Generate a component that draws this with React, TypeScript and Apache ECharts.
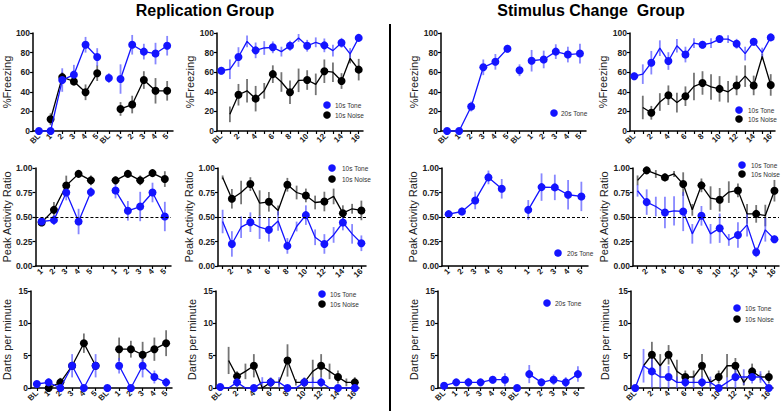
import React, { useEffect, useRef } from "react";
import * as echarts from "echarts";

// ---------- categories ----------
const cats12 = ["BL", "1", "2", "3", "4", "5", "BL", "1", "2", "3", "4", "5"];
const cats11 = ["1", "2", "3", "4", "5", "", "1", "2", "3", "4", "5"];
const cats17 = ["BL", "1", "2", "3", "4", "5", "6", "7", "8", "9", "10", "11", "12", "13", "14", "15", "16"];
const cats16 = ["1", "2", "3", "4", "5", "6", "7", "8", "9", "10", "11", "12", "13", "14", "15", "16"];

// ---------- Row 1: % Freezing ----------
const frzRepTone12 = [0, 0, 52, 57.5, 88, 75.5, 54, 53, 88, 81, 79, 87];
const frzRepToneErr12 = [0, 0, 12, 10, 8, 9, 5, 15, 10, 8, 11, 10];
const frzRepNoise12 = [null, 12, 55, 50.5, 39.5, 59, null, 22.5, 27, 52, 41, 41];
const frzRepNoiseErr12 = [0, 6, 5, 4, 8, 8, 0, 7, 9, 9, 13, 10];

const frzRepTone17 = [61.5, 63, 75.5, 91.5, 82.3, 84.7, 85.4, 81, 87, 95, 87, 90.5, 87.4, 82, 90, 78.6, 95];
const frzRepToneErr17 = [4, 10, 10, 6, 8, 7, 6, 5, 5, 4, 6, 5, 7, 6, 5, 6, 3];
const frzRepNoise17 = [null, 17, 37, 41, 33, 41, 58, 50, 39.5, 51.7, 52, 47.6, 61, 60, 51, 74, 62.6];
const frzRepNoiseErr17 = [0, 8, 11, 12, 13, 8, 9, 10, 12, 12, 10, 11, 12, 10, 8, 5, 11];

const frzStimTone12 = [0, 0, 25, 65, 70.6, 84, 62, 71.7, 73, 81, 78, 79];
const frzStimToneErr12 = [0, 0, 5, 8, 8, 4, 6, 11, 9, 7.5, 8, 10];

const frzStimTone17 = [55.9, 58, 69.7, 84.5, 71.4, 87, 78, 89.7, 88, 89.7, 93.8, 93.8, 89, 79, 91, 80, 95.5];
const frzStimToneErr17 = [4, 10, 12, 8, 9, 7, 8, 5, 4, 5, 3, 4, 5, 7, 4, 5, 3];
const frzStimNoise17 = [null, 24, 18.6, 29.6, 36.5, 29, 35.5, 45.5, 49, 45, 43, 40, 46.5, 56, 46.5, 76, 47];
const frzStimNoiseErr17 = [0, 12, 7, 9, 10, 10, 10, 14, 12, 13, 13, 11, 10, 11, 10, 3, 11];

// ---------- Row 2: Peak Activity Ratio ----------
const parRepTone11 = [0.454, 0.468, 0.75, 0.454, 0.754, null, 0.77, 0.563, 0.607, 0.75, 0.505];
const parRepToneErr11 = [0.03, 0.05, 0.08, 0.13, 0.05, 0, 0.08, 0.1, 0.15, 0.1, 0.15];
const parRepNoise11 = [0.444, 0.573, 0.822, 0.94, 0.874, null, 0.874, 0.94, 0.874, 0.948, 0.887];
const parRepNoiseErr11 = [0.02, 0.08, 0.1, 0.02, 0.05, 0, 0.04, 0.02, 0.05, 0.02, 0.08];

const parRepTone16 = [0.454, 0.225, 0.396, 0.447, 0.396, 0.369, 0.46, 0.205, 0.403, 0.519, 0.293, 0.225, 0.317, 0.444, 0.328, 0.232];
const parRepToneErr16 = [0.12, 0.13, 0.11, 0.1, 0.12, 0.12, 0.1, 0.08, 0.05, 0.1, 0.08, 0.1, 0.08, 0.08, 0.1, 0.08];
const parRepNoise16 = [0.904, 0.686, 0.75, 0.836, 0.642, 0.655, 0.567, 0.829, 0.75, 0.72, 0.648, 0.658, 0.71, 0.539, 0.584, 0.567];
const parRepNoiseErr16 = [0.02, 0.1, 0.12, 0.07, 0.13, 0.1, 0.05, 0.07, 0.07, 0.07, 0.07, 0.1, 0.08, 0.08, 0.05, 0.1];

const parStimTone11 = [0.529, 0.556, 0.669, 0.904, 0.788, null, 0.573, 0.805, 0.802, 0.727, 0.71];
const parStimToneErr11 = [0.02, 0.04, 0.09, 0.07, 0.1, 0, 0.1, 0.14, 0.13, 0.15, 0.15];

const parStimTone16 = [0.768, 0.652, 0.607, 0.546, 0.563, 0.556, 0.328, 0.512, 0.328, 0.386, 0.266, 0.317, 0.42, 0.14, 0.369, 0.273];
const parStimToneErr16 = [0.06, 0.13, 0.1, 0.16, 0.15, 0.2, 0.1, 0.1, 0.1, 0.15, 0.06, 0.13, 0.12, 0.05, 0.12, 0.04];
const parStimNoise16 = [0.874, 0.976, 0.939, 0.904, 0.939, 0.836, 0.573, 0.823, 0.693, 0.676, 0.754, 0.771, 0.532, 0.532, 0.515, 0.768];
const parStimNoiseErr16 = [0.05, 0.02, 0.04, 0.04, 0.03, 0.12, 0.06, 0.07, 0.12, 0.12, 0.11, 0.07, 0.1, 0.09, 0.11, 0.11];

// ---------- Row 3: Darts per minute ----------
const dpmRepTone12 = [0.62, 0.87, 0, 3.44, 0, 3.44, 0, 3.44, 0, 3.44, 1.7, 0.87];
const dpmRepToneErr12 = [0.5, 0.6, 0, 1.8, 0, 1.8, 0, 1.2, 0, 1.8, 1, 0.7];
const dpmRepNoise12 = [null, 0, 0.87, 3.44, 6.93, 3.44, null, 6.0, 6.0, 5.14, 6.0, 6.93];
const dpmRepNoiseErr12 = [0, 0, 0.7, 0, 1.5, 0, 0, 1.8, 1.3, 2, 1.8, 2];

const dpmRepTone17 = [0.15, 0, 0.87, 0, 0, 0.87, 0.87, 0.87, 0, 0, 0.87, 0.87, 0.87, 0, 0, 0, 0];
const dpmRepToneErr17 = [0, 0, 0.8, 0, 0, 0.8, 0.8, 0.8, 0, 0, 0.8, 0.8, 0.8, 0, 0, 0, 0];
const dpmRepNoise17 = [null, 4.26, 1.8, 2.57, 3.44, 0, 0.87, 0.87, 4.26, 0.87, 0.87, 2.57, 3.44, 2.57, 1.7, 0.87, 0.87];
const dpmRepNoiseErr17 = [0, 2.1, 0.8, 1.2, 1.8, 0, 0.5, 0.5, 2.5, 0.5, 0.5, 1.8, 1.8, 1.2, 1, 0.6, 0.8];

const dpmStimTone12 = [0.36, 0.87, 0.87, 0.87, 1.28, 1.28, 0, 2.15, 0.87, 1.28, 0.87, 2.15];
const dpmStimToneErr12 = [0.3, 0.4, 0.7, 0.5, 0.6, 1, 0, 1.4, 0.5, 0.8, 0.8, 1.2];

const dpmStimTone17 = [0, 3.44, 2.57, 1.7, 1.7, 0.87, 0.87, 0.87, 0.87, 0.87, 0, 0.87, 1.7, 1.7, 1.7, 1.7, 0];
const dpmStimToneErr17 = [0, 2.6, 2.5, 1.7, 1.7, 0.9, 0.9, 0.9, 0.9, 0.9, 0, 0.8, 1.7, 1.2, 1, 0.9, 0];
const dpmStimNoise17 = [null, 3.44, 5.14, 3.44, 5.14, 2.57, 1.7, 1.7, 3.44, 0.87, 1.7, 3.44, 3.44, 0.87, 2.57, 1.7, 1.7];
const dpmStimNoiseErr17 = [0, 0, 2, 1.8, 1.5, 1.8, 1, 1, 1.8, 0.5, 1, 1.8, 1.2, 0.5, 1.2, 0.5, 1];

// ---------- layout ----------
const BLUE = "#1414ff";
const BLACK = "#000000";
const FONT = "Liberation Sans, Arial, sans-serif";

const segs12 = [[0, 5], [6, 6], [7, 11]];
const segs11 = [[0, 4], [6, 10]];
const segs17 = [[0, 16]];
const segs16 = [[0, 15]];

const rows = [
  { top: 33, height: 98, min: 0, max: 100, interval: 20, name: "%Freezing", dec: 0 },
  { top: 168, height: 98, min: 0, max: 1, interval: 0.25, name: "Peak Activity Ratio", dec: 2, dashed: true },
  { top: 291, height: 97, min: 0, max: 15, interval: 5, name: "Darts per minute", dec: 0 },
];

type Panel = {
  row: number; left: number; width: number; nameGap: number;
  cats: string[]; odd?: boolean; segs: number[][];
  tone: (number | null)[]; toneErr: number[];
  noise?: (number | null)[]; noiseErr?: number[];
  legend?: { x: number; y: number; tx: number; tone: string; noise?: boolean; gap: number };
};

const panels: Panel[] = [
  { row: 0, left: 26, width: 147, nameGap: 17, cats: cats12, segs: segs12, tone: frzRepTone12, toneErr: frzRepToneErr12, noise: frzRepNoise12, noiseErr: frzRepNoiseErr12 },
  { row: 0, left: 217, width: 146, nameGap: 19, cats: cats17, segs: segs17, tone: frzRepTone17, toneErr: frzRepToneErr17, noise: frzRepNoise17, noiseErr: frzRepNoiseErr17,
    legend: { x: 327, y: 105, tx: 335, tone: "10s Tone", noise: true, gap: 10 } },
  { row: 0, left: 441, width: 145, nameGap: 19, cats: cats12, segs: segs12, tone: frzStimTone12, toneErr: frzStimToneErr12,
    legend: { x: 554, y: 113, tx: 561, tone: "20s Tone", gap: 0 } },
  { row: 0, left: 630, width: 145, nameGap: 20, cats: cats17, segs: segs17, tone: frzStimTone17, toneErr: frzStimToneErr17, noise: frzStimNoise17, noiseErr: frzStimNoiseErr17,
    legend: { x: 739, y: 110, tx: 748, tone: "10s Tone", noise: true, gap: 9 } },

  { row: 1, left: 30, width: 141, nameGap: 21, cats: cats11, segs: segs11, tone: parRepTone11, toneErr: parRepToneErr11, noise: parRepNoise11, noiseErr: parRepNoiseErr11 },
  { row: 1, left: 218, width: 148, nameGap: 21, cats: cats16, odd: true, segs: segs16, tone: parRepTone16, toneErr: parRepToneErr16, noise: parRepNoise16, noiseErr: parRepNoiseErr16,
    legend: { x: 332, y: 168, tx: 342, tone: "10s Tone", noise: true, gap: 11 } },
  { row: 1, left: 442, width: 146, nameGap: 24, cats: cats11, segs: segs11, tone: parStimTone11, toneErr: parStimToneErr11,
    legend: { x: 558, y: 253, tx: 567, tone: "20s Tone", gap: 0 } },
  { row: 1, left: 633, width: 146, nameGap: 24, cats: cats16, odd: true, segs: segs16, tone: parStimTone16, toneErr: parStimToneErr16, noise: parStimNoise16, noiseErr: parStimNoiseErr16,
    legend: { x: 742, y: 165, tx: 751, tone: "10s Tone", noise: true, gap: 9 } },

  { row: 2, left: 27, width: 145, nameGap: 19, cats: cats12, segs: segs12, tone: dpmRepTone12, toneErr: dpmRepToneErr12, noise: dpmRepNoise12, noiseErr: dpmRepNoiseErr12 },
  { row: 2, left: 216, width: 143, nameGap: 19, cats: cats17, segs: segs17, tone: dpmRepTone17, toneErr: dpmRepToneErr17, noise: dpmRepNoise17, noiseErr: dpmRepNoiseErr17,
    legend: { x: 322, y: 294, tx: 330, tone: "10s Tone", noise: true, gap: 10 } },
  { row: 2, left: 438, width: 146, nameGap: 19, cats: cats12, segs: segs12, tone: dpmStimTone12, toneErr: dpmStimToneErr12,
    legend: { x: 547, y: 303, tx: 555, tone: "20s Tone", gap: 0 } },
  { row: 2, left: 631, width: 142, nameGap: 21, cats: cats17, segs: segs17, tone: dpmStimTone17, toneErr: dpmStimToneErr17, noise: dpmStimNoise17, noiseErr: dpmStimNoiseErr17,
    legend: { x: 737, y: 308, tx: 745, tone: "10s Tone", noise: true, gap: 11 } },
];

function errSeries(idx: number, vals: (number | null)[], errs: number[], color: string, name: string) {
  const data = vals
    .map((v, i) => (v == null || !errs[i] ? null : [i, v, errs[i]]))
    .filter((d) => d !== null);
  return {
    type: "custom",
    name,
    xAxisIndex: idx,
    yAxisIndex: idx,
    z: 1,
    silent: true,
    data,
    renderItem: (params: any, api: any) => {
      const x = api.value(0);
      const v = api.value(1);
      const e = api.value(2);
      const lo = Math.max(v - e, 0);
      const p1 = api.coord([x, lo]);
      const p2 = api.coord([x, v + e]);
      return {
        type: "line",
        shape: { x1: p1[0], y1: p1[1], x2: p2[0], y2: p2[1] },
        style: { stroke: color, lineWidth: 1.8 },
      };
    },
  };
}

function lineSeries(idx: number, vals: (number | null)[], segs: number[][], color: string, name: string, z: number, dashed: boolean) {
  return segs.map((s, k) => {
    const data = vals.map((v, i) => (i >= s[0] && i <= s[1] && v != null ? v : "-"));
    const ser: any = {
      type: "line",
      name,
      xAxisIndex: idx,
      yAxisIndex: idx,
      z,
      clip: false,
      symbol: "circle",
      symbolSize: 8,
      itemStyle: { color },
      lineStyle: { color, width: 1.3 },
      data,
    };
    if (dashed && k === 0) {
      ser.markLine = {
        silent: true,
        symbol: "none",
        label: { show: false },
        lineStyle: { type: [3, 2], color: "#000", width: 1 },
        data: [{ yAxis: 0.5 }],
      };
    }
    return ser;
  });
}

export default function App() {
  const ref = useRef<HTMLDivElement>(null);
  useEffect(() => {
    if (!ref.current) return;
    const chart = echarts.init(ref.current, null, { renderer: "svg" });
    const grid: any[] = [];
    const xAxis: any[] = [];
    const yAxis: any[] = [];
    const series: any[] = [];
    const graphic: any[] = [];

    panels.forEach((p, idx) => {
      const r = rows[p.row];
      grid.push({ left: p.left, top: r.top, width: p.width, height: r.height, containLabel: false });
      xAxis.push({
        type: "category",
        gridIndex: idx,
        data: p.cats,
        boundaryGap: true,
        axisLine: { lineStyle: { color: "#000", width: 1.5 } },
        axisTick: { show: true, alignWithLabel: true, interval: 0, length: 3, lineStyle: { color: "#000", width: 1.2 } },
        axisLabel: {
          rotate: 45,
          interval: p.odd ? (i: number) => i % 2 === 1 : p.cats.length === 17 ? 1 : 0,
          fontSize: 8,
          fontWeight: "bold",
          color: "#222",
          fontFamily: FONT,
          margin: 4,
        },
      });
      yAxis.push({
        type: "value",
        gridIndex: idx,
        min: r.min,
        max: r.max,
        interval: r.interval,
        name: r.name,
        nameLocation: "middle",
        nameGap: p.nameGap,
        nameTextStyle: { fontSize: 11, color: "#222", fontFamily: FONT },
        splitLine: { show: false },
        axisLine: { show: true, lineStyle: { color: "#000", width: 1.5 } },
        axisTick: { show: true, length: 3, lineStyle: { color: "#000", width: 1.2 } },
        axisLabel: {
          fontSize: 8.5,
          fontWeight: "bold",
          color: "#222",
          fontFamily: FONT,
          margin: 3,
          formatter: (v: number) => v.toFixed(r.dec),
        },
      });
      if (p.noise && p.noiseErr) {
        series.push(errSeries(idx, p.noise, p.noiseErr, "rgba(70,70,70,0.75)", "noiseErr"));
      }
      series.push(errSeries(idx, p.tone, p.toneErr, "rgba(70,70,255,0.65)", "toneErr"));
      if (p.noise) {
        series.push(...lineSeries(idx, p.noise, p.segs, BLACK, "10s Noise", 2, false));
      }
      series.push(...lineSeries(idx, p.tone, p.segs, BLUE, p.legend ? p.legend.tone : "10s Tone", 3, !!r.dashed));

      if (p.legend) {
        const L = p.legend;
        graphic.push({ type: "circle", shape: { cx: L.x, cy: L.y, r: 3.8 }, style: { fill: BLUE } });
        graphic.push({ type: "text", x: L.tx, y: L.y, style: { text: L.tone, fontSize: 6.5, fill: "#333", fontFamily: FONT, verticalAlign: "middle" } });
        if (L.noise) {
          const y2 = L.y + L.gap;
          graphic.push({ type: "circle", shape: { cx: L.x, cy: y2, r: 3.8 }, style: { fill: BLACK } });
          graphic.push({ type: "text", x: L.tx, y: y2, style: { text: "10s Noise", fontSize: 6.5, fill: "#333", fontFamily: FONT, verticalAlign: "middle" } });
        }
      }
    });

    graphic.push({ type: "text", x: 205, y: 10, style: { text: "Replication Group", fontSize: 16, fontWeight: "bold", fill: "#000", fontFamily: FONT, align: "center", verticalAlign: "middle" } });
    graphic.push({ type: "text", x: 591, y: 10, style: { text: "Stimulus Change  Group", fontSize: 16, fontWeight: "bold", fill: "#000", fontFamily: FONT, align: "center", verticalAlign: "middle" } });
    graphic.push({ type: "line", shape: { x1: 390, y1: 24, x2: 390, y2: 411 }, style: { stroke: "#000", lineWidth: 2 } });

    chart.setOption({
      animation: false,
      backgroundColor: "#fff",
      grid,
      xAxis,
      yAxis,
      series,
      graphic,
    });
    return () => chart.dispose();
  }, []);
  return <div ref={ref} style={{ width: 782, height: 411, position: "absolute", left: 0, top: 0 }} />;
}
